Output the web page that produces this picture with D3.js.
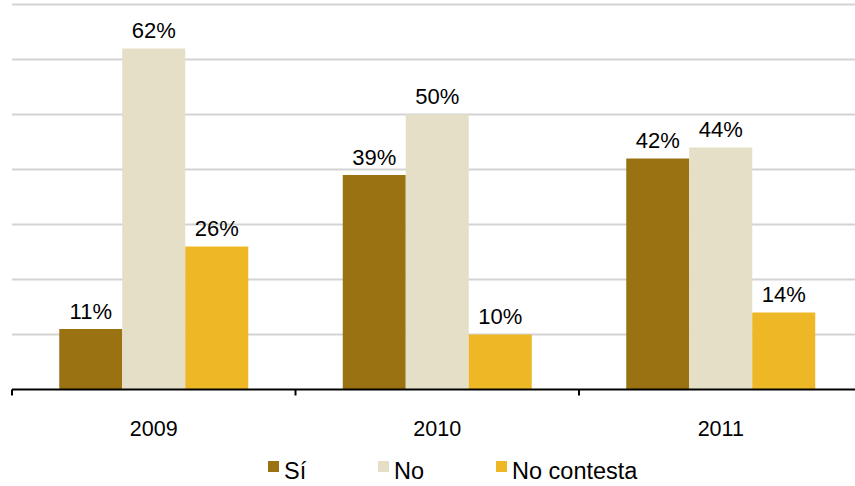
<!DOCTYPE html>
<html>
<head>
<meta charset="utf-8">
<script src="https://cdn.jsdelivr.net/npm/d3@7"></script>
<style>
  html, body { margin: 0; padding: 0; background: #fff; }
  svg { display: block; font-family: "Liberation Sans", Arial, Helvetica, sans-serif; }
</style>
</head>
<body>
<svg id="chart" width="855" height="486"></svg>
<script>
const categories = ["2009", "2010", "2011"];
const seriesNames = ["Sí", "No", "No contesta"];
const siValues = [11, 39, 42];
const noValues = [62, 50, 44];
const ncValues = [26, 10, 14];
const yTicks = [0, 10, 20, 30, 40, 50, 60, 70];
const colors = ["#9B7212", "#E5DFC8", "#EDB726"];

const seriesValues = [siValues, noValues, ncValues];
const data = categories.map((c, i) => ({
  cat: c,
  vals: seriesNames.map((s, j) => ({ key: s, value: seriesValues[j][i], color: colors[j] }))
}));

const svg = d3.select("#chart");
const mLeft = 12, mRight = 862.5, mTop = 4.5, mBottom = 389.5;

const x = d3.scaleBand().domain(categories).range([mLeft, mRight]).paddingInner(0).paddingOuter(0);
const groupWidth = x.bandwidth() * 2 / 3;
const x1 = d3.scaleBand().domain(seriesNames).range([0, groupWidth]).padding(0);
const y = d3.scaleLinear().domain([0, 70]).range([mBottom, mTop]);

// gridlines
svg.append("g").selectAll("line").data(yTicks.filter(t => t > 0)).join("line")
  .attr("x1", mLeft).attr("x2", 855)
  .attr("y1", d => y(d)).attr("y2", d => y(d))
  .attr("stroke", "#d3d3d3").attr("stroke-width", 2);

// bars
const groups = svg.append("g").selectAll("g").data(data).join("g")
  .attr("transform", d => `translate(${x(d.cat) + (x.bandwidth() - groupWidth) / 2},0)`);

groups.selectAll("rect").data(d => d.vals).join("rect")
  .attr("x", d => x1(d.key))
  .attr("width", x1.bandwidth())
  .attr("y", d => y(d.value))
  .attr("height", d => y(0) - y(d.value))
  .attr("fill", d => d.color);

groups.selectAll("text").data(d => d.vals).join("text")
  .attr("x", d => x1(d.key) + x1.bandwidth() / 2)
  .attr("y", d => y(d.value) - 10.5)
  .attr("text-anchor", "middle")
  .attr("font-size", 22)
  .attr("fill", "#000")
  .text(d => d.value + "%");

// x axis
const axisG = svg.append("g").attr("transform", `translate(0,${mBottom})`);
axisG.call(d3.axisBottom(x).tickSize(0).tickPadding(31))
  .call(g => g.select(".domain").remove())
  .call(g => g.selectAll("text").attr("font-size", 21.5).attr("fill", "#000").attr("font-family", null));
axisG.append("line").attr("x1", mLeft).attr("x2", 855).attr("y1", 0).attr("y2", 0)
  .attr("stroke", "#000").attr("stroke-width", 2.2);
const tickPos = [mLeft, ...categories.map(c => x(c) + x.bandwidth())];
axisG.selectAll("line.tk").data(tickPos).join("line").attr("class", "tk")
  .attr("x1", d => d).attr("x2", d => d).attr("y1", 0).attr("y2", 6)
  .attr("stroke", "#000").attr("stroke-width", 2);

// legend
const legendX = [268, 378, 496];
const legend = svg.append("g").selectAll("g").data(seriesNames).join("g")
  .attr("transform", (d, i) => `translate(${legendX[i]},461)`);
legend.append("rect").attr("width", 11).attr("height", 11).attr("fill", (d, i) => colors[i]);
legend.append("text").attr("x", 16).attr("y", 18).attr("font-size", 23.5).attr("fill", "#000").text(d => d);
</script>
</body>
</html>
